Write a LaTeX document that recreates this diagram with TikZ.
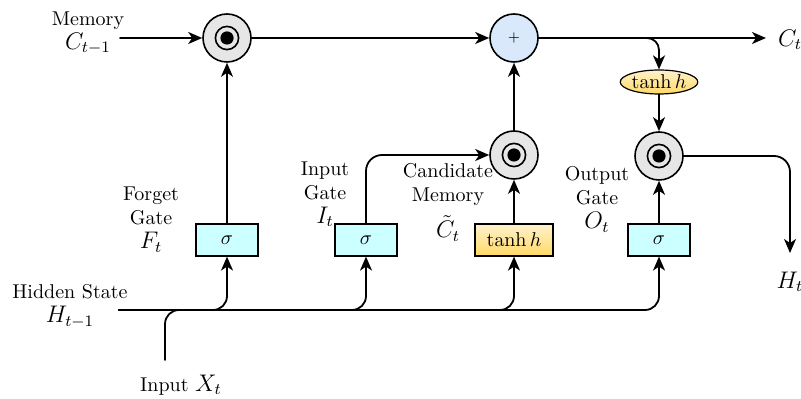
\documentclass[tikz,border=0pt]{standalone}
\usetikzlibrary{arrows.meta,shapes.geometric}
\definecolor{gatefill}{HTML}{CCFFFF}
\definecolor{plusfill}{HTML}{DAE8FC}
\definecolor{multfill}{HTML}{E6E6E6}
\definecolor{ytop}{HTML}{FFF2CC}
\definecolor{ybot}{HTML}{FFD966}
\tikzset{
  wire/.style={line width=0.9pt, line cap=round},
  arr/.style={wire, -{Stealth[length=7pt,width=6pt,inset=2pt]}},
  mult/.style={circle, draw, line width=0.8pt, fill=multfill, minimum size=24pt, inner sep=0pt,
    path picture={
      \draw[line width=0.8pt, black] (path picture bounding box.center) circle (5.8pt);
      \fill[black] (path picture bounding box.center) circle (3.3pt);}},
  adder/.style={circle, draw, line width=0.8pt, fill=plusfill, minimum size=24pt, inner sep=0pt, font=\scriptsize},
  gatebox/.style={rectangle, draw, line width=0.6pt, fill=gatefill, minimum width=31pt, minimum height=16pt, inner sep=0pt},
  tanhbox/.style={rectangle, draw, line width=0.6pt, top color=ytop, bottom color=ybot, minimum width=39pt, minimum height=16pt, inner sep=0pt},
  tanhoval/.style={ellipse, draw, line width=0.6pt, top color=ytop, bottom color=ybot, minimum width=31pt, minimum height=12pt, inner sep=0pt},
  lbl/.style={align=center, inner sep=0pt, anchor=north},
}
\newcommand{\bigsym}[1]{{\large$#1$}}
\begin{document}
\begin{tikzpicture}[x=0.5pt,y=-0.5pt]
\useasboundingbox (0,0) rectangle (801,399);

% operators on the cell-state line
\node[mult] (m1) at (227,38) {};
\node[adder] (add) at (514,38) {+};
\node[tanhoval] (th) at (659,82) {$\tanh h$};
\node[mult] (m3) at (659,156) {};
\node[mult] (m2) at (514,155) {};

% gate layers
\node[gatebox] (fg) at (227,240) {$\sigma$};
\node[gatebox] (ig) at (366,240) {$\sigma$};
\node[tanhbox] (cg) at (514,240) {$\tanh h$};
\node[gatebox] (og) at (659,240) {$\sigma$};

% labels
\node[lbl] (lmem) at (88,11) {Memory\\\bigsym{C_{t-1}}};
\node[lbl, anchor=center] (lct) at (790,40) {\bigsym{C_t}};
\node[lbl] (lfg) at (151,187) {Forget\\Gate\\\bigsym{F_t}};
\node[lbl] (lig) at (325,161) {Input\\Gate\\\bigsym{I_t}};
\node[lbl] (lcm) at (448,163) {Candidate\\Memory\\[4pt]\bigsym{\tilde{C}_t}};
\node[lbl] (log) at (597,166) {Output\\Gate\\\bigsym{O_t}};
\node[lbl] (lhs) at (70,284) {Hidden State\\\bigsym{H_{t-1}}};
\node[lbl, anchor=center] (lht) at (790,282) {\bigsym{H_t}};
\node[lbl, anchor=center] (lxt) at (181,385) {Input \bigsym{X_t}};

% free ends of the connectors
\coordinate (cin) at (120,38);
\coordinate (cout) at (766,38);
\coordinate (hout) at (790,253);
\coordinate (hs) at (119,310);
\coordinate (xin) at (165,360);
\coordinate (xj) at (210,310);

% cell state
\draw[arr] (cin) -- (m1);
\draw[arr] (m1) -- (add);
\draw[arr] (add.east) -- (cout);
\draw[arr, rounded corners=6pt] (add.east) -| (th.north);
\draw[arr] (th.south) -- (m3.north);

% gate outputs
\draw[arr] (fg.north) -- (m1.south);
\draw[arr, rounded corners=8pt] (ig.north) |- (m2.west);
\draw[arr] (cg.north) -- (m2.south);
\draw[arr] (m2.north) -- (add.south);
\draw[arr] (og.north) -- (m3.south);
\draw[arr, rounded corners=8pt] (m3.east) -| (hout);

% hidden state and input feeding the gates
\draw[arr, rounded corners=7pt] (hs) -| (fg.south);
\draw[arr, rounded corners=7pt] (hs) -| (ig.south);
\draw[arr, rounded corners=7pt] (hs) -| (cg.south);
\draw[arr, rounded corners=7pt] (hs) -| (og.south);
\draw[wire, rounded corners=7pt] (xin) |- (xj);
\end{tikzpicture}
\end{document}
